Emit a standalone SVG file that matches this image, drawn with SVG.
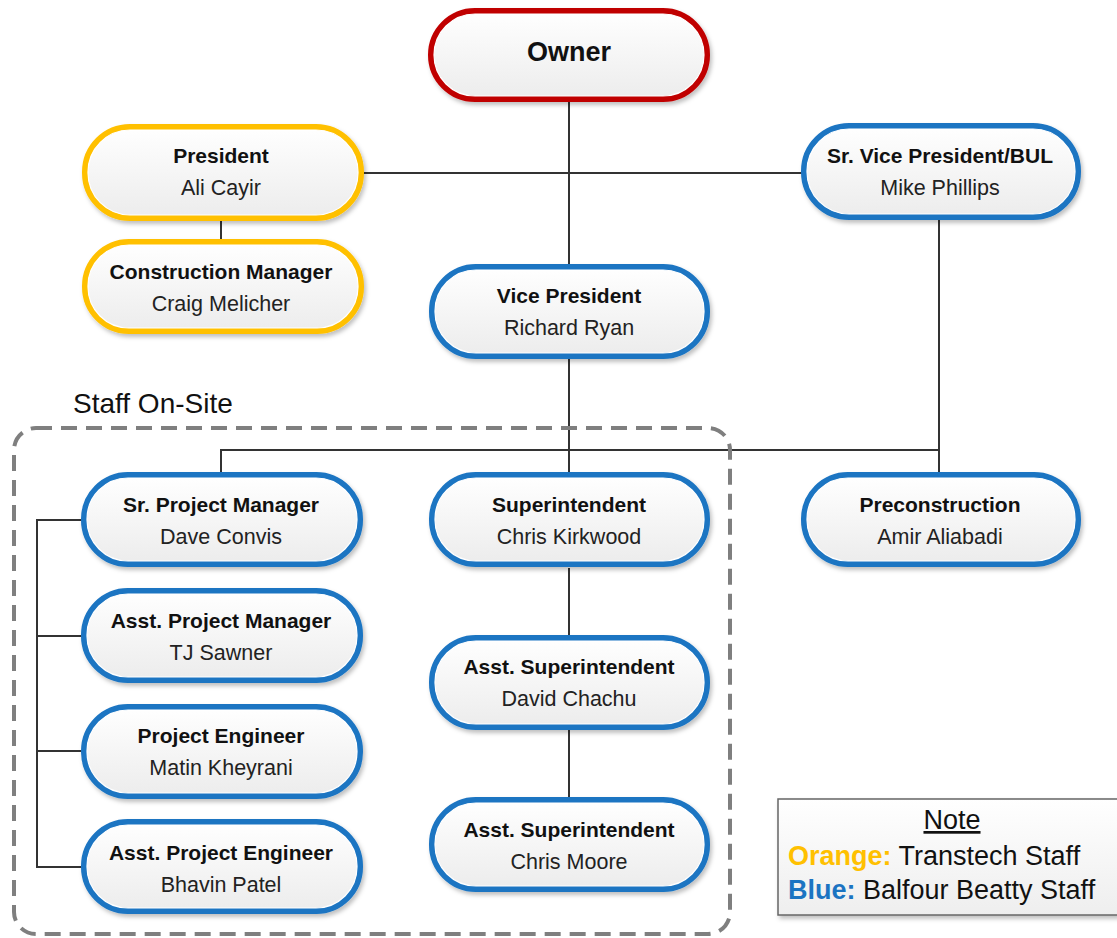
<svg xmlns="http://www.w3.org/2000/svg" width="1117" height="938" viewBox="0 0 1117 938">
<defs>
<linearGradient id="g" x1="0" y1="0" x2="0" y2="1"><stop offset="0" stop-color="#ffffff"/><stop offset="1" stop-color="#ececec"/></linearGradient>
<linearGradient id="gn" x1="0" y1="0" x2="0" y2="1"><stop offset="0" stop-color="#ffffff"/><stop offset="1" stop-color="#eeeeee"/></linearGradient>
<filter id="sh" x="-10%" y="-10%" width="125%" height="130%"><feDropShadow dx="2" dy="3" stdDeviation="2" flood-color="#000" flood-opacity="0.25"/></filter>
</defs>
<style>
.n{fill:url(#g);stroke-width:6;filter:url(#sh)}
.in{fill:none;stroke:#fff;stroke-width:1.2}
.r{stroke:#C00000}.o{stroke:#FFC000}.b{stroke:#1B74C2}
.t{font-family:"Liberation Sans",Arial,sans-serif;font-weight:bold;font-size:21px;fill:#111;text-anchor:middle}
.m{font-family:"Liberation Sans",Arial,sans-serif;font-size:21.5px;fill:#222;text-anchor:middle}
.c{stroke:#333;stroke-width:2;fill:none}
.lt{font-family:"Liberation Sans",Arial,sans-serif;font-size:27px;fill:#111}
</style>
<rect width="1117" height="938" fill="#fff"/>
<g id="connectors">
<path class="c" d="M569 100V265M363 173H802M221 220V240M569 357V473M221 473V450H939M939 219V473M569 568V637M569 729V798M82 520H37V867H82M37 636H82M37 751H82"/>
</g>
<g id="staff-onsite">
<rect x="14" y="428" width="716" height="506" rx="22" fill="none" stroke="#7f7f7f" stroke-width="4" stroke-dasharray="16 9"/>
<text class="lt" x="73" y="413" style="font-size:28px">Staff On-Site</text>
</g>
<g id="owner"><rect class="n r" x="431" y="11" width="276" height="88" rx="44"/><rect class="in" x="434" y="14" width="270" height="82" rx="41"/><text class="t" x="569" y="61" style="font-size:27px">Owner</text></g>
<g id="president"><rect class="n o" x="85" y="127" width="276" height="91" rx="45"/><rect class="in" x="88" y="130" width="270" height="85" rx="42"/><text class="t" x="221" y="163">President</text><text class="m" x="221" y="195">Ali Cayir</text></g>
<g id="construction-manager"><rect class="n o" x="85" y="242" width="276" height="89" rx="44"/><rect class="in" x="88" y="245" width="270" height="83" rx="41"/><text class="t" x="221" y="279">Construction Manager</text><text class="m" x="221" y="311">Craig Melicher</text></g>
<g id="svp"><rect class="n b" x="804" y="126" width="274" height="91" rx="45"/><rect class="in" x="807" y="129" width="268" height="85" rx="42"/><text class="t" x="940" y="163">Sr. Vice President/BUL</text><text class="m" x="940" y="195">Mike Phillips</text></g>
<g id="vp"><rect class="n b" x="432" y="267" width="275" height="89" rx="44"/><rect class="in" x="435" y="270" width="269" height="83" rx="41"/><text class="t" x="569" y="303">Vice President</text><text class="m" x="569" y="335">Richard Ryan</text></g>
<g id="sr-pm"><rect class="n b" x="84" y="475" width="276" height="89" rx="44"/><rect class="in" x="87" y="478" width="270" height="83" rx="41"/><text class="t" x="221" y="512">Sr. Project Manager</text><text class="m" x="221" y="544">Dave Convis</text></g>
<g id="superintendent"><rect class="n b" x="432" y="475" width="275" height="89" rx="44"/><rect class="in" x="435" y="478" width="269" height="83" rx="41"/><text class="t" x="569" y="512">Superintendent</text><text class="m" x="569" y="544">Chris Kirkwood</text></g>
<g id="preconstruction"><rect class="n b" x="804" y="475" width="274" height="89" rx="44"/><rect class="in" x="807" y="478" width="268" height="83" rx="41"/><text class="t" x="940" y="512">Preconstruction</text><text class="m" x="940" y="544">Amir Aliabadi</text></g>
<g id="asst-pm"><rect class="n b" x="84" y="591" width="276" height="89" rx="44"/><rect class="in" x="87" y="594" width="270" height="83" rx="41"/><text class="t" x="221" y="628">Asst. Project Manager</text><text class="m" x="221" y="660">TJ Sawner</text></g>
<g id="project-engineer"><rect class="n b" x="84" y="707" width="276" height="89" rx="44"/><rect class="in" x="87" y="710" width="270" height="83" rx="41"/><text class="t" x="221" y="743">Project Engineer</text><text class="m" x="221" y="775">Matin Kheyrani</text></g>
<g id="asst-pe"><rect class="n b" x="84" y="822" width="276" height="89" rx="44"/><rect class="in" x="87" y="825" width="270" height="83" rx="41"/><text class="t" x="221" y="860">Asst. Project Engineer</text><text class="m" x="221" y="892">Bhavin Patel</text></g>
<g id="asst-sup-1"><rect class="n b" x="432" y="638" width="275" height="89" rx="44"/><rect class="in" x="435" y="641" width="269" height="83" rx="41"/><text class="t" x="569" y="674">Asst. Superintendent</text><text class="m" x="569" y="706">David Chachu</text></g>
<g id="asst-sup-2"><rect class="n b" x="432" y="800" width="275" height="89" rx="44"/><rect class="in" x="435" y="803" width="269" height="83" rx="41"/><text class="t" x="569" y="837">Asst. Superintendent</text><text class="m" x="569" y="869">Chris Moore</text></g>
<g id="note">
<rect x="778" y="799" width="340" height="116" fill="url(#gn)" stroke="#666" stroke-width="1.5" filter="url(#sh)"/>
<text class="lt" x="952" y="829" text-anchor="middle" text-decoration="underline">Note</text>
<text class="lt" x="788" y="865"><tspan fill="#FFC000" font-weight="bold">Orange:</tspan> Transtech Staff</text>
<text class="lt" x="788" y="899"><tspan fill="#1B74C2" font-weight="bold">Blue:</tspan> Balfour Beatty Staff</text>
</g>
</svg>
